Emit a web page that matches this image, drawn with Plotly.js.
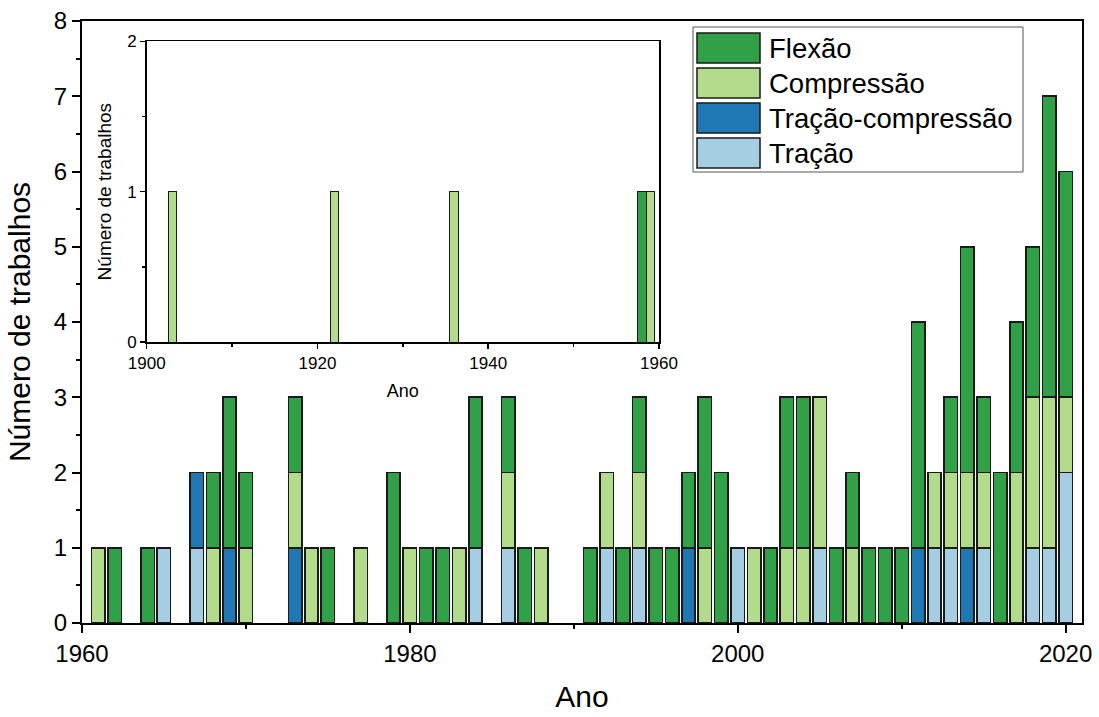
<!DOCTYPE html>
<html>
<head>
<meta charset="utf-8">
<script src="https://cdn.plot.ly/plotly-3.0.1.min.js"></script>
<style>html,body{margin:0;padding:0;background:#fff;}#chart{width:1099px;height:717px;}</style>
</head>
<body>
<div id="chart"></div>
<script>
// ---- Data (main chart: 1961-2020) ----
const years = [1961,1962,1963,1964,1965,1966,1967,1968,1969,1970,1971,1972,1973,1974,1975,1976,1977,1978,1979,1980,1981,1982,1983,1984,1985,1986,1987,1988,1989,1990,1991,1992,1993,1994,1995,1996,1997,1998,1999,2000,2001,2002,2003,2004,2005,2006,2007,2008,2009,2010,2011,2012,2013,2014,2015,2016,2017,2018,2019,2020];
const tracao      = [0,0,0,0,1,0,1,0,0,0,0,0,0,0,0,0,0,0,0,0,0,0,0,1,0,1,0,0,0,0,0,1,0,1,0,0,0,0,0,1,0,0,0,0,1,0,0,0,0,0,0,1,1,0,1,0,0,1,1,2];
const tracaoComp  = [0,0,0,0,0,0,1,0,1,0,0,0,1,0,0,0,0,0,0,0,0,0,0,0,0,0,0,0,0,0,0,0,0,0,0,0,1,0,0,0,0,0,0,0,0,0,0,0,0,0,1,0,0,1,0,0,0,0,0,0];
const compressao  = [1,0,0,0,0,0,0,1,0,1,0,0,1,1,0,0,1,0,0,1,0,0,1,0,0,1,0,1,0,0,0,1,0,1,0,0,0,1,0,0,1,0,1,1,2,0,1,0,0,0,0,1,1,1,1,0,2,2,2,1];
const flexao      = [0,1,0,1,0,0,0,1,2,1,0,0,1,0,1,0,0,0,2,0,1,1,0,2,0,1,1,0,0,0,1,0,1,1,1,1,1,2,2,0,0,1,2,2,0,1,1,1,1,1,3,0,1,3,1,2,2,2,4,3];

// ---- Data (inset: 1900-1960) ----
const insetYears      = [1903,1922,1936,1958,1959];
const insetCompressao = [1,1,1,0,1];
const insetFlexao     = [0,0,0,1,0];

// ---- Labels ----
const seriesNames = ['Flexão','Compressão','Tração-compressão','Tração'];
const seriesColors = ['#31a148','#b2db8c','#1f78b4','#a6cee3'];
const mainXTicks = [1960,1980,2000,2020];
const insetXTicks = [1900,1920,1940,1960];
const xTitle = 'Ano';
const yTitle = 'Número de trabalhos';

const FONT = 'Liberation Sans, Arial, sans-serif';
const nz = a => a.map(v => v === 0 ? null : v);
const edge = {color:'#1a1a1a', width:1.6};

function mainBar(vals, idx){
  return {type:'bar', x:years, y:nz(vals), name:seriesNames[idx], width:0.82,
    marker:{color:seriesColors[idx], line:edge}, xaxis:'x', yaxis:'y', showlegend:false, hoverinfo:'x+y+name'};
}
function insetBar(vals, idx){
  return {type:'bar', x:insetYears, y:nz(vals), name:seriesNames[idx], width:0.98,
    marker:{color:seriesColors[idx], line:{color:'#1a1a1a', width:1}}, xaxis:'x2', yaxis:'y2', showlegend:false};
}

const traces = [
  mainBar(tracao,3), mainBar(tracaoComp,2), mainBar(compressao,1), mainBar(flexao,0),
  insetBar(insetCompressao,1), insetBar(insetFlexao,0)
];

// plot area in px
const L=82, R=1082, T=21, B=623;
const px = x => (x-L)/(R-L);
const py = y => (B-y)/(B-T);

// custom legend
const shapes = [{type:'rect', xref:'paper', yref:'paper', x0:px(693), x1:px(1023), y0:py(172), y1:py(27),
  line:{color:'#555', width:1}, fillcolor:'#fff', layer:'above'}];
const annotations = [];
const rowTops = [33,68,103,138];
seriesNames.forEach((n,i)=>{
  const t = rowTops[i], b = t+30;
  shapes.push({type:'rect', xref:'paper', yref:'paper', x0:px(697), x1:px(760), y0:py(b), y1:py(t),
    line:{color:'#1a1a1a', width:1.5}, fillcolor:seriesColors[i], layer:'above'});
  annotations.push({xref:'paper', yref:'paper', x:px(767), y:py((t+b)/2), xanchor:'left', yanchor:'middle',
    text:n, showarrow:false, font:{family:FONT, size:27.5, color:'#000'}});
});

const axCommon = {showgrid:false, zeroline:false, showline:true, linecolor:'#000', mirror:true, ticks:'outside', tickcolor:'#000'};

const layout = {
  width:1099, height:717,
  margin:{l:L, r:1099-R, t:T, b:717-B},
  paper_bgcolor:'#fff', plot_bgcolor:'#fff',
  barmode:'stack', bargap:0,
  font:{family:FONT, color:'#000'},
  xaxis:Object.assign({}, axCommon, {domain:[0,1], range:[1960,2021], tickvals:mainXTicks, ticklen:8, tickwidth:2, linewidth:2,
    minor:{dtick:10, tick0:1960, ticks:'outside', ticklen:4, tickwidth:2, tickcolor:'#000'},
    tickfont:{size:24}, title:{text:xTitle, font:{size:30}, standoff:20}, anchor:'y'}),
  yaxis:Object.assign({}, axCommon, {domain:[0,1], range:[0,8], dtick:1, ticklen:8, tickwidth:2, linewidth:2,
    minor:{dtick:0.5, ticks:'outside', ticklen:4, tickwidth:2, tickcolor:'#000'},
    tickfont:{size:24}, title:{text:yTitle, font:{size:30}, standoff:14}, anchor:'x'}),
  xaxis2:Object.assign({}, axCommon, {domain:[px(146.7), px(659)], range:[1900,1960], tickvals:insetXTicks, ticklen:5, tickwidth:1.5, linewidth:1.5,
    minor:{dtick:10, tick0:1900, ticks:'outside', ticklen:3, tickwidth:1.5, tickcolor:'#000'},
    tickfont:{size:17}, title:{text:xTitle, font:{size:18}, standoff:12}, anchor:'y2'}),
  yaxis2:Object.assign({}, axCommon, {domain:[py(342), py(41.3)], range:[0,2], dtick:1, ticklen:5, tickwidth:1.5, linewidth:1.5,
    minor:{dtick:0.5, ticks:'outside', ticklen:3, tickwidth:1.5, tickcolor:'#000'},
    tickfont:{size:17}, title:{text:yTitle, font:{size:19}, standoff:10}, anchor:'x2'}),
  shapes:shapes, annotations:annotations, showlegend:false
};

Plotly.newPlot('chart', traces, layout, {displayModeBar:false, staticPlot:true});
</script>
</body>
</html>
